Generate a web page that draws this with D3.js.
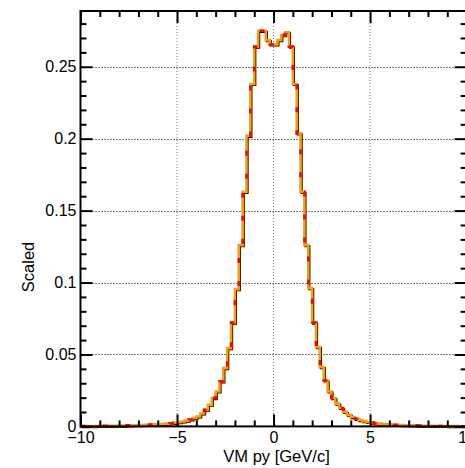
<!DOCTYPE html>
<html>
<head>
<meta charset="utf-8">
<script src="https://cdn.jsdelivr.net/npm/d3@7"></script>
<style>
  body { margin: 0; background: #fff; overflow: hidden; }
  text { font-family: "Liberation Sans", Arial, sans-serif; fill: #000; }
</style>
</head>
<body>
<div id="chart"></div>
<script>
// histogram range, 100 bins of 0.2 GeV/c
const xRange = [-10, 10];
const nBins = 100;

// scaled bin contents from left to right
const scaledValues = [
    0.0002, 0.0002, 0.0003, 0.0002, 0.0003, 0.0004, 0.0003, 0.0004, 0.0005, 0.0005,
    0.0006, 0.0006, 0.0007, 0.0008, 0.0008, 0.0009, 0.0010, 0.0011, 0.0012, 0.0014,
    0.0015, 0.0017, 0.0019, 0.0022, 0.0025, 0.0029, 0.0034, 0.0040, 0.0048, 0.0058,
    0.0069, 0.0090, 0.0116, 0.0151, 0.0197, 0.0243, 0.0313, 0.0405, 0.0544, 0.0722,
    0.0954, 0.1260, 0.1630, 0.2020, 0.2380, 0.2640, 0.2750, 0.2750, 0.2685, 0.2655,
    0.2655, 0.2685, 0.2720, 0.2740, 0.2640, 0.2380, 0.2037, 0.1630, 0.1260, 0.0961,
    0.0722, 0.0551, 0.0412, 0.0319, 0.0243, 0.0197, 0.0158, 0.0128, 0.0100, 0.0081,
    0.0065, 0.0053, 0.0044, 0.0037, 0.0031, 0.0026, 0.0022, 0.0019, 0.0016, 0.0014,
    0.0012, 0.0011, 0.0010, 0.0009, 0.0008, 0.0007, 0.0007, 0.0006, 0.0005, 0.0005,
    0.0004, 0.0004, 0.0003, 0.0003, 0.0003, 0.0002, 0.0002, 0.0002, 0.0001, 0.0001
];

const xMajorTicks = [-10, -5, 0, 5, 10];
const xMinorTicks = [-9, -8, -7, -6, -4, -3, -2, -1, 1, 2, 3, 4, 6, 7, 8, 9];
const yMajorTicks = [0, 0.05, 0.1, 0.15, 0.2, 0.25];
const yMinorTicks = [0.01, 0.02, 0.03, 0.04, 0.06, 0.07, 0.08, 0.09, 0.11, 0.12, 0.13, 0.14,
    0.16, 0.17, 0.18, 0.19, 0.21, 0.22, 0.23, 0.24, 0.26, 0.27, 0.28];
const xTitle = 'VM py [GeV/c]';
const yTitle = 'Scaled';

const config = {
    width: 465,
    height: 468,
    frame: {left: 80.5, right: 466.6, top: 11, bottom: 426.4},
    majorTick: 12,
    minorTick: 6,
    labelSize: 16,
    titleSize: 16.5
};

const f = config.frame;

const svg = d3.select('#chart').append('svg')
    .attr('width', config.width)
    .attr('height', config.height);

const xScale = d3.scaleLinear()
    .domain(xRange)
    .range([f.left, f.right]);

const yScale = d3.scaleLinear()
    .domain([0, d3.max(scaledValues) * 1.05])
    .range([f.bottom, f.top]);

// dotted grid at the major ticks
const grid = svg.append('g').attr('class', 'grid')
    .attr('stroke', '#000')
    .attr('stroke-width', 1)
    .attr('stroke-dasharray', '1,2');

grid.selectAll('.gx')
    .data(xMajorTicks.slice(1, -1))
    .join('line')
    .attr('class', 'gx')
    .attr('x1', d => xScale(d)).attr('x2', d => xScale(d))
    .attr('y1', f.top).attr('y2', f.bottom)
    .attr('stroke', '#777');

grid.selectAll('.gy')
    .data(yMajorTicks.slice(1))
    .join('line')
    .attr('class', 'gy')
    .attr('x1', f.left).attr('x2', f.right)
    .attr('y1', d => Math.round(yScale(d)) + 0.5).attr('y2', d => Math.round(yScale(d)) + 0.5);

// histogram outline as steps
const binWidth = (xRange[1] - xRange[0]) / nBins;
const steps = scaledValues.map((v, i) => [xRange[0] + i * binWidth, v]);
steps.push([xRange[1], scaledValues[nBins - 1]]);

const line = d3.line()
    .x(d => xScale(d[0]))
    .y(d => yScale(d[1]))
    .curve(d3.curveStepAfter);

svg.append('path')
    .attr('d', line(steps))
    .attr('fill', 'none')
    .attr('stroke', '#000')
    .attr('stroke-width', 2.2)
    .attr('transform', 'translate(1,1)');

svg.append('path')
    .attr('d', line(steps))
    .attr('fill', 'none')
    .attr('stroke', '#ff9c00')
    .attr('stroke-width', 2.6);

svg.append('path')
    .attr('d', line(steps))
    .attr('fill', 'none')
    .attr('stroke', '#ff0000')
    .attr('stroke-width', 2.6)
    .attr('stroke-dasharray', '5,18');

// axes, ROOT style: ticks on the inside, on all four sides
function styleAxis(g) {
    g.select('.domain').remove();
    g.selectAll('line').attr('stroke', '#000').attr('stroke-width', 2);
}

function styleLabels(g) {
    g.selectAll('text')
        .attr('font-size', config.labelSize)
        .attr('font-family', '"Liberation Sans", Arial, sans-serif');
}

const labelX = d => d3.format('d')(d);
const labelY = d => d === 0 ? '0' : String(+d.toFixed(2));

svg.append('g')
    .attr('transform', `translate(0,${f.bottom})`)
    .call(d3.axisBottom(xScale).tickValues(xMajorTicks).tickSize(-config.majorTick)
        .tickPadding(5).tickFormat(labelX))
    .call(styleAxis)
    .call(styleLabels);

svg.append('g')
    .attr('transform', `translate(0,${f.bottom})`)
    .call(d3.axisBottom(xScale).tickValues(xMinorTicks).tickSize(-config.minorTick).tickFormat(''))
    .call(styleAxis);

svg.append('g')
    .attr('transform', `translate(0,${f.top})`)
    .call(d3.axisTop(xScale).tickValues(xMajorTicks).tickSize(-config.majorTick).tickFormat(''))
    .call(styleAxis);

svg.append('g')
    .attr('transform', `translate(0,${f.top})`)
    .call(d3.axisTop(xScale).tickValues(xMinorTicks).tickSize(-config.minorTick).tickFormat(''))
    .call(styleAxis);

svg.append('g')
    .attr('transform', `translate(${f.left},0)`)
    .call(d3.axisLeft(yScale).tickValues(yMajorTicks).tickSize(-config.majorTick)
        .tickPadding(4).tickFormat(labelY))
    .call(styleAxis)
    .call(styleLabels);

svg.append('g')
    .attr('transform', `translate(${f.left},0)`)
    .call(d3.axisLeft(yScale).tickValues(yMinorTicks).tickSize(-config.minorTick).tickFormat(''))
    .call(styleAxis);

svg.append('g')
    .attr('transform', `translate(${f.right},0)`)
    .call(d3.axisRight(yScale).tickValues(yMajorTicks).tickSize(-config.majorTick).tickFormat(''))
    .call(styleAxis);

svg.append('g')
    .attr('transform', `translate(${f.right},0)`)
    .call(d3.axisRight(yScale).tickValues(yMinorTicks).tickSize(-config.minorTick).tickFormat(''))
    .call(styleAxis);

// frame
svg.append('rect')
    .attr('x', f.left).attr('y', f.top)
    .attr('width', f.right - f.left).attr('height', f.bottom - f.top)
    .attr('fill', 'none')
    .attr('stroke', '#000')
    .attr('stroke-width', 2);

// axis titles
svg.append('text')
    .attr('x', (f.left + f.right) / 2 + 3)
    .attr('y', 461.5)
    .attr('text-anchor', 'middle')
    .attr('font-size', config.titleSize)
    .text(xTitle);

svg.append('text')
    .attr('transform', 'translate(34,267) rotate(-90)')
    .attr('text-anchor', 'middle')
    .attr('font-size', config.titleSize)
    .text(yTitle);
</script>
</body>
</html>
